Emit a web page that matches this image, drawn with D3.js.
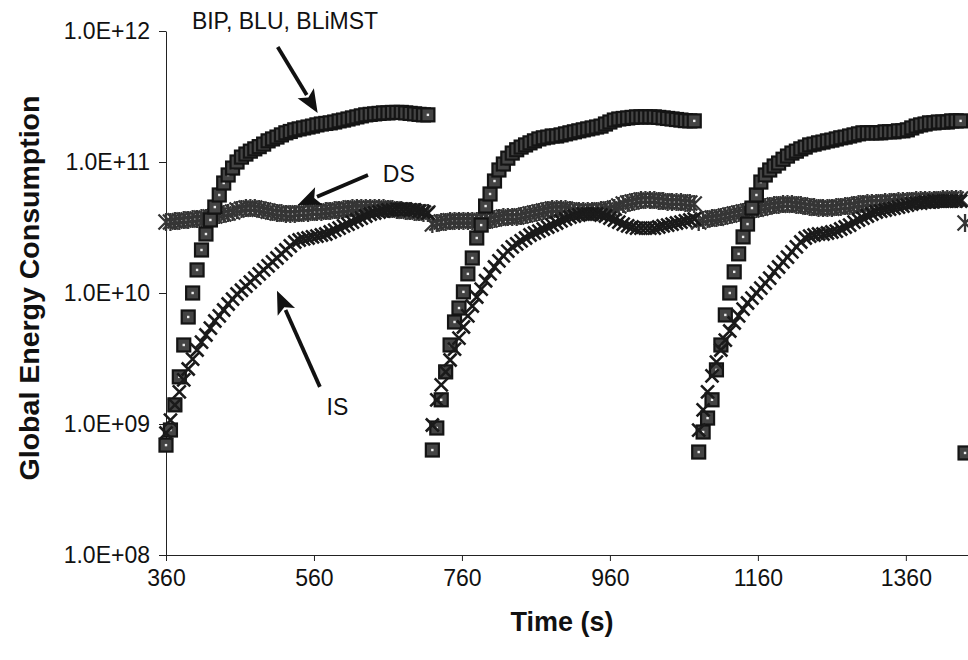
<!DOCTYPE html>
<html><head><meta charset="utf-8">
<script src="https://cdn.jsdelivr.net/npm/d3@7"></script>
<style>
html,body{margin:0;padding:0;background:#fff;}
svg{display:block;font-family:"Liberation Sans",Arial,Helvetica,sans-serif;}
</style></head><body>
<svg id="chart" width="968" height="660"></svg>
<script>
// ---------- data ----------
const periodStarts = [360, 720, 1080];   // each run restarts every 360 s
const sampleStep = 6;                    // seconds between samples
const xTicks = [360, 560, 760, 960, 1160, 1360];
const yTicks = [1e8, 1e9, 1e10, 1e11, 1e12];

// BIP, BLU, BLiMST (square markers)
const bipP1 = [6.9e8,9.0e8,1.4e9,2.29e9,4.01e9,6.56e9,1.0e10,1.5e10,2.13e10,2.82e10,
  3.61e10,4.53e10,5.6e10,6.91e10,7.96e10,8.99e10,1.0e11,1.09e11,1.15e11,1.21e11,
  1.26e11,1.31e11,1.37e11,1.45e11,1.5e11,1.55e11,1.61e11,1.67e11,1.71e11,1.76e11,
  1.79e11,1.82e11,1.85e11,1.88e11,1.92e11,1.95e11,1.97e11,1.99e11,2.02e11,2.06e11,
  2.09e11,2.13e11,2.17e11,2.21e11,2.25e11,2.29e11,2.31e11,2.33e11,2.35e11,2.37e11,
  2.37e11,2.39e11,2.39e11,2.39e11,2.37e11,2.35e11,2.33e11,2.31e11,2.29e11,2.29e11];
const bipP2 = [6.33e8,9.32e8,1.53e9,2.5e9,4.01e9,6.01e9,7.68e9,1.02e10,1.4e10,1.85e10,
  2.63e10,3.3e10,4.61e10,5.7e10,7.16e10,8.69e10,9.65e10,1.07e11,1.17e11,1.24e11,
  1.3e11,1.35e11,1.4e11,1.45e11,1.5e11,1.53e11,1.55e11,1.58e11,1.58e11,1.61e11,
  1.64e11,1.67e11,1.7e11,1.73e11,1.76e11,1.79e11,1.82e11,1.85e11,1.88e11,1.95e11,
  2.02e11,2.09e11,2.13e11,2.15e11,2.17e11,2.19e11,2.21e11,2.21e11,2.21e11,2.21e11,
  2.21e11,2.19e11,2.17e11,2.15e11,2.13e11,2.11e11,2.09e11,2.07e11,2.06e11,2.06e11];
const bipP3 = [6.11e8,8.69e8,1.11e9,1.53e9,2.59e9,4.01e9,6.8e9,1.0e10,1.45e10,1.99e10,
  2.68e10,3.36e10,4.45e10,5.6e10,7.03e10,7.96e10,8.69e10,9.32e10,9.82e10,1.05e11,
  1.11e11,1.17e11,1.21e11,1.26e11,1.3e11,1.35e11,1.37e11,1.4e11,1.42e11,1.45e11,
  1.47e11,1.5e11,1.53e11,1.55e11,1.58e11,1.61e11,1.64e11,1.67e11,1.67e11,1.67e11,
  1.67e11,1.67e11,1.7e11,1.7e11,1.7e11,1.73e11,1.73e11,1.76e11,1.82e11,1.88e11,
  1.92e11,1.95e11,1.99e11,1.99e11,2.02e11,2.02e11,2.02e11,2.06e11,2.06e11,2.06e11];

// DS (star markers)
const dsP1 = [3.48e10,3.48e10,3.55e10,3.55e10,3.61e10,3.61e10,3.67e10,3.67e10,3.73e10,3.73e10,
  3.8e10,3.87e10,3.94e10,4.01e10,4.08e10,4.15e10,4.3e10,4.37e10,4.45e10,4.45e10,
  4.45e10,4.37e10,4.3e10,4.22e10,4.15e10,4.08e10,4.08e10,4.01e10,4.01e10,4.01e10,
  4.08e10,4.08e10,4.08e10,4.15e10,4.15e10,4.15e10,4.22e10,4.22e10,4.3e10,4.3e10,
  4.37e10,4.37e10,4.45e10,4.45e10,4.45e10,4.45e10,4.45e10,4.45e10,4.45e10,4.45e10,
  4.37e10,4.37e10,4.3e10,4.3e10,4.22e10,4.22e10,4.15e10,4.15e10,4.08e10,4.08e10];
const dsP2 = [3.36e10,3.42e10,3.48e10,3.48e10,3.55e10,3.55e10,3.55e10,3.55e10,3.55e10,3.55e10,
  3.55e10,3.55e10,3.55e10,3.61e10,3.67e10,3.73e10,3.8e10,3.8e10,3.8e10,3.8e10,
  3.87e10,3.94e10,4.01e10,4.08e10,4.15e10,4.22e10,4.3e10,4.37e10,4.37e10,4.37e10,
  4.37e10,4.3e10,4.22e10,4.22e10,4.22e10,4.22e10,4.22e10,4.22e10,4.3e10,4.3e10,
  4.37e10,4.45e10,4.61e10,4.78e10,4.86e10,4.95e10,5.04e10,5.13e10,5.13e10,5.13e10,
  5.13e10,5.04e10,5.04e10,4.95e10,4.95e10,4.95e10,4.95e10,4.86e10,4.86e10,4.78e10];
const dsP3 = [3.48e10,3.61e10,3.67e10,3.73e10,3.73e10,3.8e10,3.87e10,3.94e10,4.01e10,4.08e10,
  4.15e10,4.22e10,4.3e10,4.37e10,4.45e10,4.53e10,4.61e10,4.69e10,4.69e10,4.78e10,
  4.78e10,4.78e10,4.69e10,4.69e10,4.61e10,4.53e10,4.53e10,4.45e10,4.45e10,4.45e10,
  4.45e10,4.53e10,4.53e10,4.61e10,4.61e10,4.69e10,4.78e10,4.78e10,4.86e10,4.86e10,
  4.86e10,4.86e10,4.95e10,4.95e10,4.95e10,5.04e10,5.04e10,5.04e10,5.04e10,5.13e10,
  5.13e10,5.13e10,5.13e10,5.13e10,5.13e10,5.22e10,5.22e10,5.22e10,5.22e10,5.22e10];

// IS (x markers)
const isP1 = [8.54e8,1.07e9,1.4e9,1.76e9,2.17e9,2.63e9,3.13e9,3.67e9,4.22e9,4.78e9,
  5.4e9,6.11e9,6.68e9,7.42e9,8.24e9,8.99e9,9.82e9,1.05e10,1.13e10,1.21e10,
  1.3e10,1.4e10,1.5e10,1.61e10,1.73e10,1.85e10,1.99e10,2.13e10,2.29e10,2.45e10,
  2.54e10,2.59e10,2.63e10,2.68e10,2.72e10,2.77e10,2.82e10,2.92e10,3.02e10,3.13e10,
  3.25e10,3.36e10,3.48e10,3.61e10,3.73e10,3.87e10,4.01e10,4.08e10,4.15e10,4.22e10,
  4.3e10,4.3e10,4.37e10,4.37e10,4.37e10,4.3e10,4.3e10,4.22e10,4.15e10,4.08e10];
const isP2 = [9.82e8,1.53e9,1.99e9,2.5e9,3.08e9,3.73e9,4.53e9,5.5e9,6.68e9,7.96e9,
  9.32e9,1.07e10,1.24e10,1.4e10,1.58e10,1.76e10,1.92e10,2.09e10,2.25e10,2.37e10,
  2.5e10,2.63e10,2.77e10,2.87e10,2.97e10,3.08e10,3.19e10,3.3e10,3.42e10,3.55e10,
  3.67e10,3.8e10,3.87e10,3.94e10,4.01e10,4.01e10,4.01e10,4.01e10,3.94e10,3.87e10,
  3.73e10,3.61e10,3.48e10,3.36e10,3.25e10,3.19e10,3.13e10,3.13e10,3.13e10,3.13e10,
  3.13e10,3.19e10,3.25e10,3.3e10,3.36e10,3.42e10,3.48e10,3.55e10,3.61e10,3.67e10];
const isP3 = [8.99e8,1.28e9,1.76e9,2.33e9,2.97e9,3.67e9,4.37e9,5.13e9,5.9e9,6.68e9,
  7.54e9,8.39e9,9.15e9,1.0e10,1.09e10,1.19e10,1.3e10,1.45e10,1.58e10,1.73e10,
  1.88e10,2.06e10,2.25e10,2.45e10,2.63e10,2.72e10,2.77e10,2.82e10,2.82e10,2.87e10,
  2.92e10,2.97e10,3.08e10,3.19e10,3.3e10,3.48e10,3.61e10,3.73e10,3.87e10,4.01e10,
  4.15e10,4.22e10,4.3e10,4.37e10,4.45e10,4.53e10,4.61e10,4.69e10,4.78e10,4.86e10,
  4.86e10,4.95e10,4.95e10,5.04e10,5.04e10,5.04e10,5.04e10,5.04e10,5.04e10,5.04e10];

// first samples of the next run (t = 1440)
const nextRunTime = 1440;
const bipNext = 6.01e8;
const dsNext = 3.42e10;

// annotations: label position and arrow tail/tip, in data units (time, value)
const annotations = [
  {label: "BIP, BLU, BLiMST", tx: 395, tv: 1.04e12, from: [511, 7.54e11], to: [565, 2.37e11]},
  {label: "DS", tx: 653, tv: 7.0e10, from: [633, 7.96e10], to: [538, 4.69e10]},
  {label: "IS", tx: 577, tv: 1.17e9, from: [568, 1.92e9], to: [510, 1.04e10]}
];

// ---------- build ----------
function build(periods, next) {
  const pts = [];
  periods.forEach((arr, i) => arr.forEach((v, k) => pts.push({t: periodStarts[i] + k * sampleStep, v})));
  if (next !== undefined) pts.push({t: nextRunTime, v: next});
  return pts;
}
const bip = build([bipP1, bipP2, bipP3], bipNext);
const ds = build([dsP1, dsP2, dsP3], dsNext);
const is = build([isP1, isP2, isP3]);

const svg = d3.select('#chart');
const x = d3.scaleLinear().domain([360, 1444]).range([166, 968]);
const y = d3.scaleLog().domain([1e8, 1e12]).range([555, 31]);

// axes
const fmt = d => '1.0E+' + String(Math.round(Math.log10(d))).padStart(2, '0');
const gy = svg.append('g').attr('transform', 'translate(166,0)')
  .call(d3.axisLeft(y).tickValues(yTicks).tickFormat(fmt).tickSize(7).tickSizeOuter(0).tickPadding(9));
const gx = svg.append('g').attr('transform', 'translate(0,555)')
  .call(d3.axisBottom(x).tickValues(xTicks).tickFormat(d3.format('d')).tickSize(6).tickSizeOuter(0).tickPadding(9));
[gx, gy].forEach(g => {
  g.selectAll('path,line').attr('stroke', '#222').attr('stroke-width', 1);
  g.selectAll('text').attr('font-size', 23).attr('fill', '#111')
    .attr('font-family', '"Liberation Sans",Arial,sans-serif');
});

// axis titles
svg.append('text').attr('x', 562).attr('y', 631).attr('text-anchor', 'middle')
  .attr('font-size', 27).attr('font-weight', 'bold').attr('fill', '#111').text('Time (s)');
svg.append('text').attr('transform', 'translate(39,288) rotate(-90)').attr('text-anchor', 'middle')
  .attr('font-size', 28.5).attr('font-weight', 'bold').attr('fill', '#111').text('Global Energy Consumption');

// markers
const starPath = 'M-7.5,-7.5L7.5,7.5M-7.5,7.5L7.5,-7.5M0,-9L0,9';
const xPath = 'M-6.5,-6.5L6.5,6.5M-6.5,6.5L6.5,-6.5';

svg.append('g').selectAll('path').data(ds).join('path')
  .attr('transform', d => `translate(${x(d.t)},${y(d.v)})`)
  .attr('d', starPath).attr('stroke', '#353535').attr('stroke-width', 2.3).attr('fill', 'none');

const gb = svg.append('g').selectAll('g').data(bip).join('g')
  .attr('transform', d => `translate(${x(d.t)},${y(d.v)})`);
gb.append('rect').attr('x', -6.5).attr('y', -6.5).attr('width', 13).attr('height', 13)
  .attr('fill', '#444').attr('stroke', '#141414').attr('stroke-width', 2.2);
gb.append('rect').attr('x', -1.2).attr('y', -1.2).attr('width', 2.4).attr('height', 2.4).attr('fill', '#eee');

svg.append('g').selectAll('path').data(is).join('path')
  .attr('transform', d => `translate(${x(d.t)},${y(d.v)})`)
  .attr('d', xPath).attr('stroke', '#1a1a1a').attr('stroke-width', 2.6).attr('fill', 'none');

// annotations with arrows
const ga = svg.append('g');
annotations.forEach(a => {
  ga.append('text').attr('x', x(a.tx)).attr('y', y(a.tv)).attr('font-size', 23).attr('fill', '#111').text(a.label);
  const x0 = x(a.from[0]), y0 = y(a.from[1]), x1 = x(a.to[0]), y1 = y(a.to[1]);
  const len = Math.hypot(x1 - x0, y1 - y0), ux = (x1 - x0) / len, uy = (y1 - y0) / len;
  const hl = 23, hw = 9.5;
  const bx = x1 - ux * hl, by = y1 - uy * hl;
  ga.append('line').attr('x1', x0).attr('y1', y0).attr('x2', bx + ux * 2).attr('y2', by + uy * 2)
    .attr('stroke', '#111').attr('stroke-width', 3.8);
  ga.append('path').attr('d', `M${x1},${y1}L${bx - uy * hw},${by + ux * hw}L${bx + ux * 5},${by + uy * 5}L${bx + uy * hw},${by - ux * hw}Z`)
    .attr('fill', '#111');
});
</script>
</body></html>
